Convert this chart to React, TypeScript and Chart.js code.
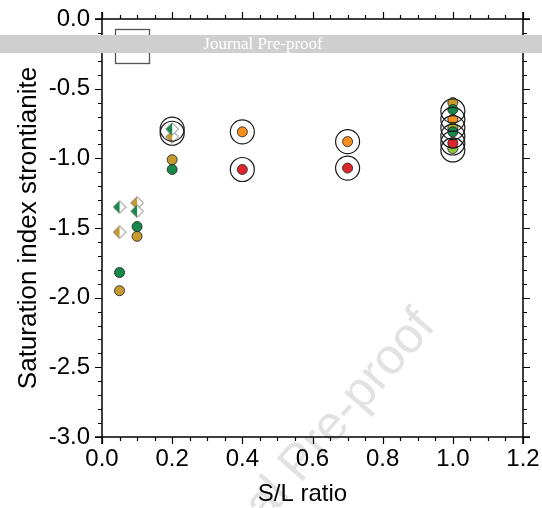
import React, { useEffect, useRef } from 'react';
import { Chart, registerables } from 'chart.js';
Chart.register(...registerables);

// ---- data ----
const xMajorTicks = [0, 0.2, 0.4, 0.6, 0.8, 1.0, 1.2];
const yMajorTicks = [0, -0.5, -1.0, -1.5, -2.0, -2.5, -3.0];
const xTitle = 'S/L ratio';
const yTitle = 'Saturation index strontianite';

const greenCircleX = [0.05, 0.1, 0.2, 1.0, 1.0];
const greenCircleY = [-1.82, -1.49, -1.08, -0.65, -0.81];
const goldCircleX = [0.05, 0.1, 0.2, 1.0];
const goldCircleY = [-1.95, -1.56, -1.01, -0.6];
const orangeCircleX = [0.4, 0.7, 1.0];
const orangeCircleY = [-0.81, -0.88, -0.72];
const redCircleX = [0.4, 0.7, 1.0];
const redCircleY = [-1.08, -1.07, -0.89];
const limeCircleX = [1.0];
const limeCircleY = [-0.93];
const oliveCircleX = [1.0];
const oliveCircleY = [-0.78];
const greenDiamondX = [0.05, 0.1, 0.2];
const greenDiamondY = [-1.35, -1.38, -0.79];
const goldDiamondX = [0.05, 0.1, 0.2];
const goldDiamondY = [-1.53, -1.32, -0.845];
const ringX = [0.2, 0.2, 0.4, 0.4, 0.7, 0.7, 1.0, 1.0, 1.0, 1.0, 1.0, 1.0];
const ringY = [-0.79, -0.82, -0.81, -1.08, -0.88, -1.07, -0.66, -0.72, -0.78, -0.84, -0.89, -0.94];

const GREEN = '#17884a';
const GOLD = '#c49b2c';
const ORANGE = '#f5901e';
const RED = '#e0242b';
const LIME = '#8cc43f';
const OLIVE = '#a2ad33';

const FONT = 'Liberation Sans, Arial, Helvetica, sans-serif';

function pts(xs: number[], ys: number[]) {
  return xs.map((x, i) => ({ x, y: ys[i] }));
}

function halfDiamond(color: string, size = 14) {
  const c = document.createElement('canvas');
  c.width = size;
  c.height = size;
  const ctx = c.getContext('2d')!;
  const h = size / 2;
  const e = 0.7;
  ctx.beginPath();
  ctx.moveTo(h, e);
  ctx.lineTo(e, h);
  ctx.lineTo(h, size - e);
  ctx.closePath();
  ctx.fillStyle = color;
  ctx.fill();
  ctx.beginPath();
  ctx.moveTo(h, e);
  ctx.lineTo(size - e, h);
  ctx.lineTo(h, size - e);
  ctx.closePath();
  ctx.fillStyle = '#ffffff';
  ctx.fill();
  ctx.beginPath();
  ctx.moveTo(h, e);
  ctx.lineTo(size - e, h);
  ctx.lineTo(h, size - e);
  ctx.lineTo(e, h);
  ctx.closePath();
  ctx.strokeStyle = '#666';
  ctx.lineWidth = 0.9;
  ctx.stroke();
  return c;
}

const decorPlugin = {
  id: 'decor',
  beforeDraw(chart: any) {
    const ctx = chart.ctx as CanvasRenderingContext2D;
    ctx.save();
    ctx.fillStyle = '#ffffff';
    ctx.fillRect(0, 0, chart.width, chart.height);
    // diagonal watermark
    ctx.translate(300, 484);
    ctx.rotate((-49 * Math.PI) / 180);
    ctx.font = `50px ${FONT}`;
    ctx.fillStyle = '#e2e2e2';
    ctx.textBaseline = 'alphabetic';
    const pre = ctx.measureText('Journal ').width;
    ctx.fillText('Journal Pre-proof', -pre, 0);
    ctx.restore();
  },
  afterDatasetsDraw(chart: any) {
    const ctx = chart.ctx as CanvasRenderingContext2D;
    const xs = chart.scales.x;
    const ys = chart.scales.y;
    const L = xs.left, R = xs.right, T = ys.top, B = ys.bottom;
    ctx.save();
    ctx.strokeStyle = '#000';
    ctx.lineWidth = 1.5;
    const ext = 7;
    ctx.beginPath();
    ctx.moveTo(L - ext, B); ctx.lineTo(R + ext, B);
    ctx.moveTo(L - ext, T); ctx.lineTo(R + ext, T);
    ctx.moveTo(L, T - ext); ctx.lineTo(L, B + ext);
    ctx.moveTo(R, T - ext); ctx.lineTo(R, B + ext);
    ctx.stroke();
    ctx.lineWidth = 1.2;
    ctx.beginPath();
    for (let i = 0; i <= 24; i++) {
      const v = i * 0.05;
      const px = Math.round(xs.getPixelForValue(v)) + 0.5;
      const len = i % 4 === 0 ? 7 : 4;
      ctx.moveTo(px, B); ctx.lineTo(px, B + len);
      ctx.moveTo(px, T); ctx.lineTo(px, T - len);
    }
    for (let i = 0; i <= 30; i++) {
      const v = -i * 0.1;
      const py = Math.round(ys.getPixelForValue(v)) + 0.5;
      const len = i % 5 === 0 ? 7 : 4;
      ctx.moveTo(L, py); ctx.lineTo(L - len, py);
      ctx.moveTo(R, py); ctx.lineTo(R + len, py);
    }
    ctx.stroke();
    // x axis title (offset left of centre as in the original)
    ctx.fillStyle = '#000';
    ctx.font = `24px ${FONT}`;
    ctx.textAlign = 'center';
    ctx.textBaseline = 'middle';
    ctx.fillText(xTitle, (L + R) / 2 - 10, 494);
    // legend box
    ctx.strokeStyle = '#555';
    ctx.lineWidth = 1.3;
    ctx.fillStyle = '#fff';
    ctx.fillRect(115, 29, 34, 34);
    ctx.strokeRect(115.5, 29.5, 34, 34);
    ctx.restore();
  },
  afterDraw(chart: any) {
    const ctx = chart.ctx as CanvasRenderingContext2D;
    ctx.save();
    ctx.fillStyle = '#cfcfcf';
    ctx.fillRect(0, 35, chart.width, 18);
    ctx.fillStyle = '#ffffff';
    ctx.font = '17px "Liberation Serif", "Times New Roman", serif';
    ctx.textAlign = 'center';
    ctx.textBaseline = 'middle';
    ctx.fillText('Journal Pre-proof', 263, 44.5);
    ctx.restore();
  },
};

export default function App() {
  const ref = useRef<HTMLCanvasElement>(null);
  useEffect(() => {
    if (!ref.current) return;
    const circle = (label: string, xs: number[], ys: number[], color: string) => ({
      label,
      data: pts(xs, ys),
      pointStyle: 'circle',
      pointRadius: 5,
      pointBackgroundColor: color,
      pointBorderColor: '#2a2a2a',
      pointBorderWidth: 0.9,
    });
    const chart = new Chart(ref.current, {
      type: 'scatter',
      data: {
        datasets: [
          {
            label: 'rings',
            data: pts(ringX, ringY),
            pointStyle: 'circle',
            pointRadius: 12,
            pointBackgroundColor: 'rgba(0,0,0,0)',
            pointBorderColor: '#1a1a1a',
            pointBorderWidth: 1.2,
          },
          {
            label: 'green diamonds',
            data: pts(greenDiamondX, greenDiamondY),
            pointStyle: halfDiamond(GREEN) as any,
            pointRadius: 6,
          },
          {
            label: 'gold diamonds',
            data: pts(goldDiamondX, goldDiamondY),
            pointStyle: halfDiamond(GOLD) as any,
            pointRadius: 6,
          },
          circle('green', greenCircleX, greenCircleY, GREEN),
          circle('olive', oliveCircleX, oliveCircleY, OLIVE),
          circle('gold', goldCircleX, goldCircleY, GOLD),
          circle('orange', orangeCircleX, orangeCircleY, ORANGE),
          circle('red', redCircleX, redCircleY, RED),
          circle('lime', limeCircleX, limeCircleY, LIME),
        ] as any,
      },
      options: {
        responsive: false,
        animation: false,
        layout: { padding: { top: 19, right: 19, left: 0, bottom: 0 } },
        plugins: { legend: { display: false }, tooltip: { enabled: false } },
        scales: {
          x: {
            type: 'linear',
            min: 0,
            max: 1.2,
            afterFit: (s: any) => {
              s.height = 71;
              s.paddingLeft = 0;
              s.paddingRight = 0;
            },
            afterBuildTicks: (s: any) => { s.ticks = xMajorTicks.map((v) => ({ value: v })); },
            ticks: {
              font: { family: FONT, size: 24 },
              color: '#000',
              padding: 8,
              maxRotation: 0,
              callback: (v: any) => Number(v).toFixed(1),
            },
            grid: { display: false, drawTicks: false },
            border: { display: false },
            title: { display: false },
          },
          y: {
            type: 'linear',
            min: -3,
            max: 0,
            afterFit: (s: any) => {
              s.width = 102;
              s.paddingTop = 0;
              s.paddingBottom = 0;
            },
            afterBuildTicks: (s: any) => { s.ticks = yMajorTicks.map((v) => ({ value: v })); },
            ticks: {
              font: { family: FONT, size: 24 },
              color: '#000',
              padding: 12,
              callback: (v: any) => Number(v).toFixed(1),
            },
            grid: { display: false, drawTicks: false },
            border: { display: false },
            title: {
              display: true,
              text: yTitle,
              font: { family: FONT, size: 26 },
              color: '#000',
              padding: { top: 13, bottom: 0 },
            },
          },
        },
      },
      plugins: [decorPlugin],
    } as any);
    return () => chart.destroy();
  }, []);
  return (
    <div style={{ position: 'fixed', left: 0, top: 0, width: 542, height: 508, background: '#fff' }}>
      <canvas ref={ref} width={542} height={508} style={{ display: 'block' }} />
    </div>
  );
}
